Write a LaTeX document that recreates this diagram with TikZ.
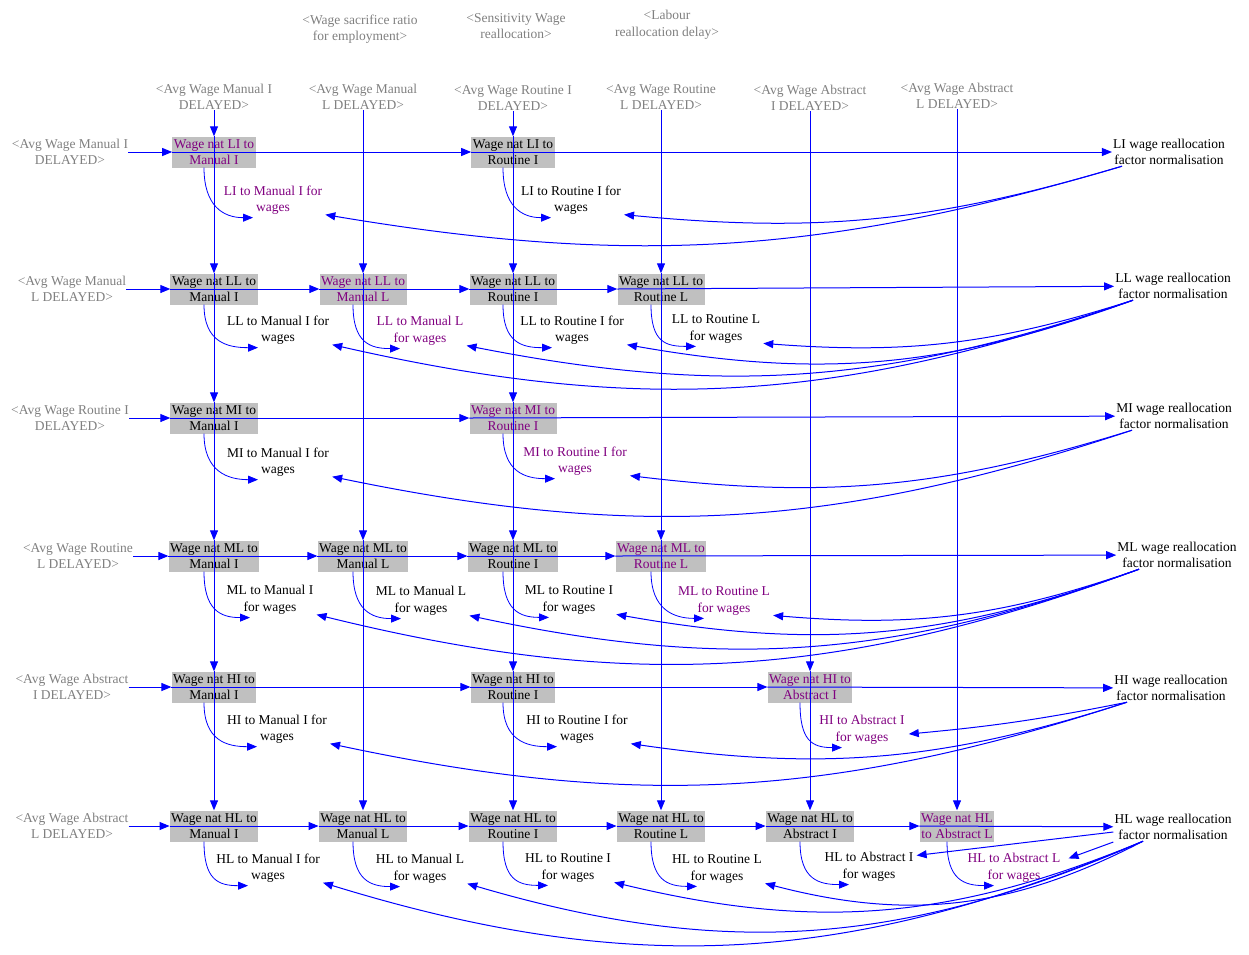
\documentclass[tikz,border=0pt]{standalone}
\usepackage{fontspec}
\setmainfont{Liberation Serif}
\usetikzlibrary{arrows.meta}

\definecolor{linkblue}{RGB}{0,0,255}
\definecolor{boxgray}{RGB}{192,192,192}
\definecolor{shgray}{RGB}{128,128,128}
\definecolor{vpurple}{RGB}{128,0,128}

\tikzset{
  wbox/.style={fill=boxgray, align=center, inner xsep=1.5pt, inner ysep=1pt, minimum height=31pt},
  wboxp/.style={wbox, text=vpurple},
  wlab/.style={align=center, inner sep=0pt},
  wlabp/.style={wlab, text=vpurple},
  ghost/.style={align=center, inner sep=0pt, text=shgray},
  fnorm/.style={align=center, inner sep=1pt},
  link/.style={draw=linkblue, line width=1pt, -{Triangle[length=10pt,width=8pt]}},
  curl/.style={link, line width=0.8pt},
}

\begin{document}
\begin{tikzpicture}[x=1pt, y=1pt, font=\fontsize{13.5}{16.5}\selectfont]
  \useasboundingbox (0,0) rectangle (1249,-954);

  % loose shadow variables
  \node[ghost] (tSac) at (360,-29) {<Wage sacrifice ratio\\for employment>};
  \node[ghost] (tSens) at (516,-26) {<Sensitivity Wage\\reallocation>};
  \node[ghost] (tDelay) at (667,-25) {<Labour\\reallocation delay>};

  % delayed wages, top
  \node[ghost] (tManI) at (214,-97) {<Avg Wage Manual I\\DELAYED>};
  \node[ghost] (tManL) at (363,-97) {<Avg Wage Manual\\L DELAYED>};
  \node[ghost] (tRouI) at (513,-98) {<Avg Wage Routine I\\DELAYED>};
  \node[ghost] (tRouL) at (661,-97) {<Avg Wage Routine\\L DELAYED>};
  \node[ghost] (tAbsI) at (810,-98) {<Avg Wage Abstract\\I DELAYED>};
  \node[ghost] (tAbsL) at (957,-96) {<Avg Wage Abstract\\L DELAYED>};

  % delayed wages, left
  \node[ghost] (sLI) at (70,-152) {<Avg Wage Manual I\\DELAYED>};
  \node[ghost] (sLL) at (72,-289) {<Avg Wage Manual\\L DELAYED>};
  \node[ghost] (sMI) at (70,-418) {<Avg Wage Routine I\\DELAYED>};
  \node[ghost] (sML) at (78,-556) {<Avg Wage Routine\\L DELAYED>};
  \node[ghost] (sHI) at (72,-687) {<Avg Wage Abstract\\I DELAYED>};
  \node[ghost] (sHL) at (72,-826) {<Avg Wage Abstract\\L DELAYED>};

  % normalisation factors
  \node[fnorm] (nLI) at (1169,-152) {LI wage reallocation\\factor normalisation};
  \node[fnorm] (nLL) at (1173,-286) {LL wage reallocation\\factor normalisation};
  \node[fnorm] (nMI) at (1174,-416) {MI wage reallocation\\factor normalisation};
  \node[fnorm] (nML) at (1177,-555) {ML wage reallocation\\factor normalisation};
  \node[fnorm] (nHI) at (1171,-688) {HI wage reallocation\\factor normalisation};
  \node[fnorm] (nHL) at (1173,-827) {HL wage reallocation\\factor normalisation};

  % LI row
  \node[wboxp] (LIManI) at (214,-152) {Wage nat LI to\\Manual I};
  \node[wbox] (LIRouI) at (513,-152) {Wage nat LI to\\Routine I};
  \node[wlabp] (LIManIw) at (273,-200) {LI to Manual I for\\wages};
  \node[wlab] (LIRouIw) at (571,-200) {LI to Routine I for\\wages};

  % LL row
  \node[wbox] (LLManI) at (214,-289) {Wage nat LL to\\Manual I};
  \node[wboxp] (LLManL) at (363,-289) {Wage nat LL to\\Manual L};
  \node[wbox] (LLRouI) at (513,-289) {Wage nat LL to\\Routine I};
  \node[wbox] (LLRouL) at (661,-289) {Wage nat LL to\\Routine L};
  \node[wlab] (LLManIw) at (278,-330) {LL to Manual I for\\wages};
  \node[wlabp] (LLManLw) at (420,-331) {LL to Manual L\\for wages};
  \node[wlab] (LLRouIw) at (572,-330) {LL to Routine I for\\wages};
  \node[wlab] (LLRouLw) at (716,-329) {LL to Routine L\\for wages};

  % MI row
  \node[wbox] (MIManI) at (214,-418) {Wage nat MI to\\Manual I};
  \node[wboxp] (MIRouI) at (513,-418) {Wage nat MI to\\Routine I};
  \node[wlab] (MIManIw) at (278,-462) {MI to Manual I for\\wages};
  \node[wlabp] (MIRouIw) at (575,-461) {MI to Routine I for\\wages};

  % ML row
  \node[wbox] (MLManI) at (214,-556) {Wage nat ML to\\Manual I};
  \node[wbox] (MLManL) at (363,-556) {Wage nat ML to\\Manual L};
  \node[wbox] (MLRouI) at (513,-556) {Wage nat ML to\\Routine I};
  \node[wboxp] (MLRouL) at (661,-556) {Wage nat ML to\\Routine L};
  \node[wlab] (MLManIw) at (270,-600) {ML to Manual I\\for wages};
  \node[wlab] (MLManLw) at (421,-601) {ML to Manual L\\for wages};
  \node[wlab] (MLRouIw) at (569,-600) {ML to Routine I\\for wages};
  \node[wlabp] (MLRouLw) at (724,-601) {ML to Routine L\\for wages};

  % HI row
  \node[wbox] (HIManI) at (214,-687) {Wage nat HI to\\Manual I};
  \node[wbox] (HIRouI) at (513,-687) {Wage nat HI to\\Routine I};
  \node[wboxp] (HIAbsI) at (810,-687) {Wage nat HI to\\Abstract I};
  \node[wlab] (HIManIw) at (277,-729) {HI to Manual I for\\wages};
  \node[wlab] (HIRouIw) at (577,-729) {HI to Routine I for\\wages};
  \node[wlabp] (HIAbsIw) at (862,-730) {HI to Abstract I\\for wages};

  % HL row
  \node[wbox] (HLManI) at (214,-826) {Wage nat HL to\\Manual I};
  \node[wbox] (HLManL) at (363,-826) {Wage nat HL to\\Manual L};
  \node[wbox] (HLRouI) at (513,-826) {Wage nat HL to\\Routine I};
  \node[wbox] (HLRouL) at (661,-826) {Wage nat HL to\\Routine L};
  \node[wbox] (HLAbsI) at (810,-826) {Wage nat HL to\\Abstract I};
  \node[wboxp] (HLAbsL) at (957,-826) {Wage nat HL\\to Abstract L};
  \node[wlab] (HLManIw) at (268,-868) {HL to Manual I for\\wages};
  \node[wlab] (HLManLw) at (420,-869) {HL to Manual L\\for wages};
  \node[wlab] (HLRouIw) at (568,-868) {HL to Routine I\\for wages};
  \node[wlab] (HLRouLw) at (717,-869) {HL to Routine L\\for wages};
  \node[wlab] (HLAbsIw) at (869,-867) {HL to Abstract I\\for wages};
  \node[wlabp] (HLAbsLw) at (1014,-868) {HL to Abstract L\\for wages};

  % columns: delayed wage down through the boxes
  \draw[link] (tManI) -- (LIManI.north);
  \draw[link] (LIManI.north) -- (LLManI.north);
  \draw[link] (LLManI.north) -- (MIManI.north);
  \draw[link] (MIManI.north) -- (MLManI.north);
  \draw[link] (MLManI.north) -- (HIManI.north);
  \draw[link] (HIManI.north) -- (HLManI.north);
  \draw[link] (tManL) -- (LLManL.north);
  \draw[link] (LLManL.north) -- (MLManL.north);
  \draw[link] (MLManL.north) -- (HLManL.north);
  \draw[link] (tRouI) -- (LIRouI.north);
  \draw[link] (LIRouI.north) -- (LLRouI.north);
  \draw[link] (LLRouI.north) -- (MIRouI.north);
  \draw[link] (MIRouI.north) -- (MLRouI.north);
  \draw[link] (MLRouI.north) -- (HIRouI.north);
  \draw[link] (HIRouI.north) -- (HLRouI.north);
  \draw[link] (tRouL) -- (LLRouL.north);
  \draw[link] (LLRouL.north) -- (MLRouL.north);
  \draw[link] (MLRouL.north) -- (HLRouL.north);
  \draw[link] (tAbsI) -- (HIAbsI.north);
  \draw[link] (HIAbsI.north) -- (HLAbsI.north);
  \draw[link] (tAbsL) -- (HLAbsL.north);

  % rows: delayed wage across, then into the normalisation
  \draw[link] (sLI) -- (LIManI.west);
  \draw[link] (LIManI.west) -- (LIRouI.west);
  \draw[link] (LIRouI.west) -- (nLI);
  \draw[link] (sLL) -- (LLManI.west);
  \draw[link] (LLManI.west) -- (LLManL.west);
  \draw[link] (LLManL.west) -- (LLRouI.west);
  \draw[link] (LLRouI.west) -- (LLRouL.west);
  \draw[link] (LLRouL.west) -- (nLL);
  \draw[link] (sMI) -- (MIManI.west);
  \draw[link] (MIManI.west) -- (MIRouI.west);
  \draw[link] (MIRouI.west) -- (nMI);
  \draw[link] (sML) -- (MLManI.west);
  \draw[link] (MLManI.west) -- (MLManL.west);
  \draw[link] (MLManL.west) -- (MLRouI.west);
  \draw[link] (MLRouI.west) -- (MLRouL.west);
  \draw[link] (MLRouL.west) -- (nML);
  \draw[link] (sHI) -- (HIManI.west);
  \draw[link] (HIManI.west) -- (HIRouI.west);
  \draw[link] (HIRouI.west) -- (HIAbsI.west);
  \draw[link] (HIAbsI.west) -- (nHI);
  \draw[link] (sHL) -- (HLManI.west);
  \draw[link] (HLManI.west) -- (HLManL.west);
  \draw[link] (HLManL.west) -- (HLRouI.west);
  \draw[link] (HLRouI.west) -- (HLRouL.west);
  \draw[link] (HLRouL.west) -- (HLAbsI.west);
  \draw[link] (HLAbsI.west) -- (HLAbsL.west);
  \draw[link] (HLAbsL.west) -- (nHL);

  % box -> "for wages"
  \draw[curl] ([xshift=-10pt]LIManI.south) .. controls +(0,-38) and +(-30,0) .. ([xshift=-20pt,yshift=-3pt]LIManIw.south);
  \draw[curl] ([xshift=-10pt]LIRouI.south) .. controls +(0,-38) and +(-30,0) .. ([xshift=-20pt,yshift=-3pt]LIRouIw.south);
  \draw[curl] ([xshift=-10pt]LLManI.south) .. controls +(0,-38) and +(-30,0) .. ([xshift=-20pt,yshift=-3pt]LLManIw.south);
  \draw[curl] ([xshift=-10pt]LLManL.south) .. controls +(0,-38) and +(-30,0) .. ([xshift=-20pt,yshift=-3pt]LLManLw.south);
  \draw[curl] ([xshift=-10pt]LLRouI.south) .. controls +(0,-38) and +(-30,0) .. ([xshift=-20pt,yshift=-3pt]LLRouIw.south);
  \draw[curl] ([xshift=-10pt]LLRouL.south) .. controls +(0,-38) and +(-30,0) .. ([xshift=-20pt,yshift=-3pt]LLRouLw.south);
  \draw[curl] ([xshift=-10pt]MIManI.south) .. controls +(0,-38) and +(-30,0) .. ([xshift=-20pt,yshift=-3pt]MIManIw.south);
  \draw[curl] ([xshift=-10pt]MIRouI.south) .. controls +(0,-38) and +(-30,0) .. ([xshift=-20pt,yshift=-3pt]MIRouIw.south);
  \draw[curl] ([xshift=-10pt]MLManI.south) .. controls +(0,-38) and +(-30,0) .. ([xshift=-20pt,yshift=-3pt]MLManIw.south);
  \draw[curl] ([xshift=-10pt]MLManL.south) .. controls +(0,-38) and +(-30,0) .. ([xshift=-20pt,yshift=-3pt]MLManLw.south);
  \draw[curl] ([xshift=-10pt]MLRouI.south) .. controls +(0,-38) and +(-30,0) .. ([xshift=-20pt,yshift=-3pt]MLRouIw.south);
  \draw[curl] ([xshift=-10pt]MLRouL.south) .. controls +(0,-38) and +(-30,0) .. ([xshift=-20pt,yshift=-3pt]MLRouLw.south);
  \draw[curl] ([xshift=-10pt]HIManI.south) .. controls +(0,-38) and +(-30,0) .. ([xshift=-20pt,yshift=-3pt]HIManIw.south);
  \draw[curl] ([xshift=-10pt]HIRouI.south) .. controls +(0,-38) and +(-30,0) .. ([xshift=-20pt,yshift=-3pt]HIRouIw.south);
  \draw[curl] ([xshift=-10pt]HIAbsI.south) .. controls +(0,-38) and +(-30,0) .. ([xshift=-20pt,yshift=-3pt]HIAbsIw.south);
  \draw[curl] ([xshift=-10pt]HLManI.south) .. controls +(0,-38) and +(-30,0) .. ([xshift=-20pt,yshift=-3pt]HLManIw.south);
  \draw[curl] ([xshift=-10pt]HLManL.south) .. controls +(0,-38) and +(-30,0) .. ([xshift=-20pt,yshift=-3pt]HLManLw.south);
  \draw[curl] ([xshift=-10pt]HLRouI.south) .. controls +(0,-38) and +(-30,0) .. ([xshift=-20pt,yshift=-3pt]HLRouIw.south);
  \draw[curl] ([xshift=-10pt]HLRouL.south) .. controls +(0,-38) and +(-30,0) .. ([xshift=-20pt,yshift=-3pt]HLRouLw.south);
  \draw[curl] ([xshift=-10pt]HLAbsI.south) .. controls +(0,-38) and +(-30,0) .. ([xshift=-20pt,yshift=-3pt]HLAbsIw.south);
  \draw[curl] ([xshift=-10pt]HLAbsL.south) .. controls +(0,-38) and +(-30,0) .. ([xshift=-20pt,yshift=-3pt]HLAbsLw.south);

  % normalisation -> "for wages"
  \draw[link] ([xshift=-47pt]nLI.south) to[bend left=11] ([xshift=3pt]LIRouIw.south east);
  \draw[link] ([xshift=-47pt]nLI.south) to[bend left=13] ([xshift=3pt]LIManIw.south east);
  \draw[link] ([xshift=-40pt]nLL.south) to[bend left=11] ([xshift=3pt]LLRouLw.south east);
  \draw[link] ([xshift=-40pt]nLL.south) to[bend left=15] ([xshift=3pt]LLRouIw.south east);
  \draw[link] ([xshift=-40pt]nLL.south) to[bend left=15] ([xshift=3pt]LLManLw.south east);
  \draw[link] ([xshift=-40pt]nLL.south) to[bend left=16] ([xshift=3pt]LLManIw.south east);
  \draw[link] ([xshift=-42pt]nMI.south) to[bend left=12] ([xshift=3pt]MIRouIw.south east);
  \draw[link] ([xshift=-42pt]nMI.south) to[bend left=15] ([xshift=3pt]MIManIw.south east);
  \draw[link] ([xshift=-38pt]nML.south) to[bend left=12] ([xshift=3pt]MLRouLw.south east);
  \draw[link] ([xshift=-38pt]nML.south) to[bend left=15] ([xshift=3pt]MLRouIw.south east);
  \draw[link] ([xshift=-38pt]nML.south) to[bend left=16] ([xshift=3pt]MLManLw.south east);
  \draw[link] ([xshift=-38pt]nML.south) to[bend left=17] ([xshift=3pt]MLManIw.south east);
  \draw[link] ([xshift=-44pt]nHI.south) to[bend left=3] ([xshift=4pt,yshift=-4pt]HIAbsIw.east);
  \draw[link] ([xshift=-44pt]nHI.south) to[bend left=13] ([xshift=3pt]HIRouIw.south east);
  \draw[link] ([xshift=-44pt]nHI.south) to[bend left=15] ([xshift=3pt]HIManIw.south east);
  \draw[link] ([yshift=-5pt]nHL.west) -- ([xshift=3pt,yshift=-3pt]HLAbsIw.north east);
  \draw[link] ([yshift=-15pt]nHL.west) -- ([xshift=8pt,yshift=-5pt]HLAbsLw.north east);
  \draw[link] ([xshift=-30pt]nHL.south) to[bend left=21] ([xshift=3pt]HLRouLw.south east);
  \draw[link] ([xshift=-30pt]nHL.south) to[bend left=18] ([xshift=3pt]HLRouIw.south east);
  \draw[link] ([xshift=-30pt]nHL.south) to[bend left=20] ([xshift=3pt]HLManLw.south east);
  \draw[link] ([xshift=-30pt]nHL.south) to[bend left=20] ([xshift=3pt]HLManIw.south east);
\end{tikzpicture}
\end{document}
